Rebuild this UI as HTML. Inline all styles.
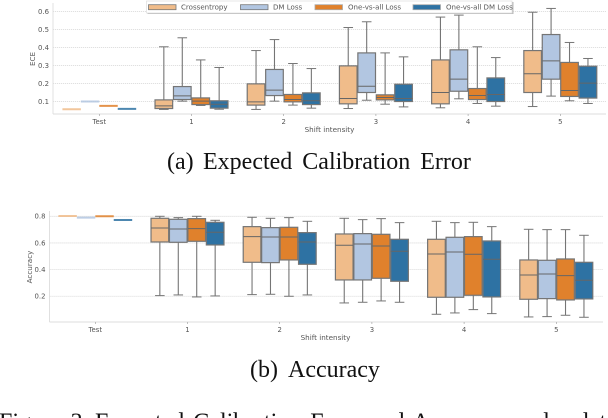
<!DOCTYPE html>
<html>
<head>
<meta charset="utf-8">
<style>
html,body{margin:0;padding:0;background:#fff;width:608px;height:418px;overflow:hidden}
svg{display:block;filter:blur(0.35px)}
.tick{font-family:"DejaVu Sans",sans-serif;font-size:6.9px;fill:#555}
.axt{font-family:"DejaVu Sans",sans-serif;font-size:7.2px;fill:#555}
.leg{font-family:"DejaVu Sans",sans-serif;font-size:7.05px;fill:#555}
.cap{font-family:"Liberation Serif",serif;font-size:24px;fill:#111}
</style>
</head>
<body>
<svg id="root" xmlns="http://www.w3.org/2000/svg" width="608" height="418" viewBox="0 0 608 418">
  <g id="ece-chart"></g>
  <g id="acc-chart"></g>
  <g>
    <rect x="147.5" y="2" width="366" height="12" fill="#bbb"/>
    <rect x="146.5" y="1" width="365.5" height="12" fill="#fff" stroke="#ddd" stroke-width="0.7"/>
    <rect x="148.5" y="4.7" width="27.5" height="5" fill="#f0bc8a" stroke="#777" stroke-width="0.8"/>
    <text class="leg" x="181" y="9.5">Crossentropy</text>
    <rect x="240.5" y="4.7" width="27.5" height="5" fill="#b2c6e1" stroke="#777" stroke-width="0.8"/>
    <text class="leg" x="273" y="9.5">DM Loss</text>
    <rect x="315" y="4.7" width="27.5" height="5" fill="#e0812c" stroke="#aaa" stroke-width="0.8"/>
    <text class="leg" x="348" y="9.5">One-vs-all Loss</text>
    <rect x="413" y="4.7" width="27.5" height="5" fill="#2e72a3" stroke="#aaa" stroke-width="0.8"/>
    <text class="leg" x="446" y="9.5">One-vs-all DM Loss</text>
  </g>
  <text class="cap" y="169" style="word-spacing:4px"><tspan x="167">(a)</tspan><tspan x="203">Expected Calibration Error</tspan></text>
  <text class="cap" y="377"><tspan x="250">(b)</tspan><tspan x="288">Accuracy</tspan></text>
  <text class="cap" y="429.5" style="word-spacing:3px"><tspan x="-1">Figure 3:</tspan><tspan x="95">Expected Calibration Error and Accuracy under dat</tspan></text>
</svg>
<script>
// Each row: [low whisker, q1, median, q3, high whisker]; one row per category.
const categories = ["Test", "1", "2", "3", "4", "5"];
const seriesNames = ["crossentropy", "dm-loss", "one-vs-all-loss", "one-vs-all-dm-loss"];
const seriesColors = ["#f0bc8a", "#b2c6e1", "#e0812c", "#2e72a3"];
const eceTicks = [0.1, 0.2, 0.3, 0.4, 0.5, 0.6];
const accTicks = [0.2, 0.4, 0.6, 0.8];

const eceCrossentropy = [
  [0.057,0.057,0.057,0.057,0.057],
  [0.056,0.061,0.076,0.109,0.404],
  [0.056,0.080,0.098,0.198,0.383],
  [0.061,0.087,0.117,0.298,0.511],
  [0.065,0.087,0.150,0.331,0.569],
  [0.072,0.150,0.254,0.383,0.596]];
const eceDm = [
  [0.100,0.100,0.100,0.100,0.100],
  [0.102,0.111,0.131,0.183,0.454],
  [0.102,0.133,0.163,0.278,0.444],
  [0.107,0.150,0.185,0.370,0.543],
  [0.115,0.157,0.224,0.387,0.580],
  [0.130,0.224,0.326,0.472,0.617]];
const eceOva = [
  [0.076,0.076,0.076,0.076,0.076],
  [0.078,0.083,0.102,0.120,0.331],
  [0.080,0.098,0.111,0.139,0.311],
  [0.085,0.109,0.122,0.137,0.370],
  [0.089,0.111,0.133,0.172,0.404],
  [0.104,0.128,0.161,0.317,0.428]];
const eceOvaDm = [
  [0.059,0.059,0.059,0.059,0.059],
  [0.057,0.063,0.085,0.104,0.289],
  [0.063,0.083,0.104,0.148,0.283],
  [0.070,0.100,0.117,0.196,0.348],
  [0.074,0.100,0.139,0.231,0.344],
  [0.089,0.119,0.202,0.296,0.339]];

const accCrossentropy = [
  [0.8025,0.8025,0.8025,0.8025,0.8025],
  [0.205,0.6075,0.7125,0.785,0.800],
  [0.2125,0.455,0.6475,0.7225,0.7925],
  [0.150,0.3225,0.5825,0.6675,0.785],
  [0.065,0.1925,0.5175,0.6275,0.7625],
  [0.045,0.1775,0.360,0.4725,0.7025]];
const accDm = [
  [0.790,0.790,0.790,0.790,0.790],
  [0.210,0.605,0.705,0.7775,0.790],
  [0.215,0.4525,0.645,0.715,0.785],
  [0.155,0.3225,0.5925,0.670,0.775],
  [0.075,0.1925,0.5325,0.6425,0.7525],
  [0.0475,0.1825,0.3675,0.470,0.700]];
const accOva = [
  [0.800,0.800,0.800,0.800,0.800],
  [0.195,0.6125,0.7075,0.7825,0.800],
  [0.200,0.4725,0.645,0.7175,0.790],
  [0.165,0.335,0.5775,0.665,0.7825],
  [0.100,0.2075,0.515,0.6475,0.755],
  [0.0575,0.1725,0.355,0.480,0.700]];
const accOvaDm = [
  [0.7725,0.7725,0.7725,0.7725,0.7725],
  [0.2025,0.585,0.680,0.755,0.770],
  [0.210,0.440,0.6075,0.6775,0.7625],
  [0.155,0.3125,0.5375,0.6275,0.7525],
  [0.070,0.195,0.4775,0.615,0.7225],
  [0.0425,0.180,0.320,0.455,0.6575]];

const NS = "http://www.w3.org/2000/svg";
function mk(parent, tag) {
  const el = document.createElementNS(NS, tag);
  parent.appendChild(el);
  return el;
}
function seg(parent, x1, y1, x2, y2, color, width) {
  const l = mk(parent, "line");
  l.setAttribute("x1", x1);
  l.setAttribute("y1", y1);
  l.setAttribute("x2", x2);
  l.setAttribute("y2", y2);
  l.setAttribute("stroke", color);
  l.setAttribute("stroke-width", width);
  return l;
}
function label(parent, cls, x, y, anchor, str) {
  const t = mk(parent, "text");
  t.setAttribute("class", cls);
  t.setAttribute("x", x);
  t.setAttribute("y", y);
  t.setAttribute("text-anchor", anchor);
  t.textContent = str;
  return t;
}
function drawChart(root, series, ticks, xPos, yPos, frame, prefix) {
  const step = xPos(1) - xPos(0);
  const boxW = step * 0.8 / 4;

  ticks.forEach(function (v) {
    const g = seg(root, frame.left, yPos(v), frame.right, yPos(v), "#d6d6d6", 0.8);
    g.setAttribute("stroke-dasharray", "1.2 0.8");
    
    
    const t = label(root, "tick", frame.left - 4, yPos(v) + 2.4, "end", v.toFixed(1));
    
    
  });

  const sl = seg(root, frame.left, frame.top, frame.left, frame.bottom, "#ddd", 0.9);
  
  
  const sb = seg(root, frame.left, frame.bottom, frame.right, frame.bottom, "#ddd", 0.9);
  
  

  categories.forEach(function (c, i) {
    const tk = seg(root, xPos(i), frame.bottom, xPos(i), frame.bottom + 2, "#999", 0.6);
    
    
    const t = label(root, "tick", xPos(i), frame.bottom + 10, "middle", c);
    
    
  });

  series.forEach(function (rows, s) {
    const off = (s - 1.5) * boxW;
    rows.forEach(function (r, i) {
      const g = mk(root, "g");
      
      
      const cx = xPos(i) + off;
      const edge = "#757575";
      if (r[0] === r[4]) {
        const flat = seg(g, cx - boxW * 0.5, yPos(r[2]), cx + boxW * 0.5, yPos(r[2]), seriesColors[s], 2);
        flat.setAttribute("opacity", "0.85");
        return;
      }
      seg(g, cx, yPos(r[4]), cx, yPos(r[3]), edge, 1.1);
      seg(g, cx, yPos(r[1]), cx, yPos(r[0]), edge, 1.1);
      seg(g, cx - boxW * 0.26, yPos(r[4]), cx + boxW * 0.26, yPos(r[4]), edge, 1);
      seg(g, cx - boxW * 0.26, yPos(r[0]), cx + boxW * 0.26, yPos(r[0]), edge, 1);
      const b = mk(g, "rect");
      b.setAttribute("x", cx - boxW * 0.5 + 0.4);
      b.setAttribute("y", yPos(r[3]));
      b.setAttribute("width", boxW - 0.8);
      b.setAttribute("height", yPos(r[1]) - yPos(r[3]));
      b.setAttribute("fill", seriesColors[s]);
      b.setAttribute("stroke", edge);
      b.setAttribute("stroke-width", "1.2");
      seg(g, cx - boxW * 0.5 + 0.4, yPos(r[2]), cx + boxW * 0.5 - 0.4, yPos(r[2]), "#666", 1);
    });
  });
}

const eceRoot = document.getElementById("ece-chart");
const accRoot = document.getElementById("acc-chart");
const eceX = function (i) { return 99.3 + i * 92.2; };
const eceY = function (v) { return 101.5 - (v - 0.1) * 180; };
const accX = function (i) { return 95.3 + i * 92.2; };
const accY = function (v) { return 216.3 + (0.8 - v) * 133.3; };

drawChart(eceRoot, [eceCrossentropy, eceDm, eceOva, eceOvaDm], eceTicks, eceX, eceY,
  { left: 53, right: 606, top: 3, bottom: 114 }, "ece");
drawChart(accRoot, [accCrossentropy, accDm, accOva, accOvaDm], accTicks, accX, accY,
  { left: 49.5, right: 603, top: 211, bottom: 322 }, "accuracy");

const eceXTitle = label(eceRoot, "axt", 329.5, 132, "middle", "Shift intensity");


const eceYTitle = label(eceRoot, "axt", 0, 0, "middle", "ECE");
eceYTitle.setAttribute("transform", "translate(35,59) rotate(-90)");


const accXTitle = label(accRoot, "axt", 325.5, 340, "middle", "Shift intensity");


const accYTitle = label(accRoot, "axt", 0, 0, "middle", "Accuracy");
accYTitle.setAttribute("transform", "translate(32,267) rotate(-90)");


</script>
</body>
</html>
